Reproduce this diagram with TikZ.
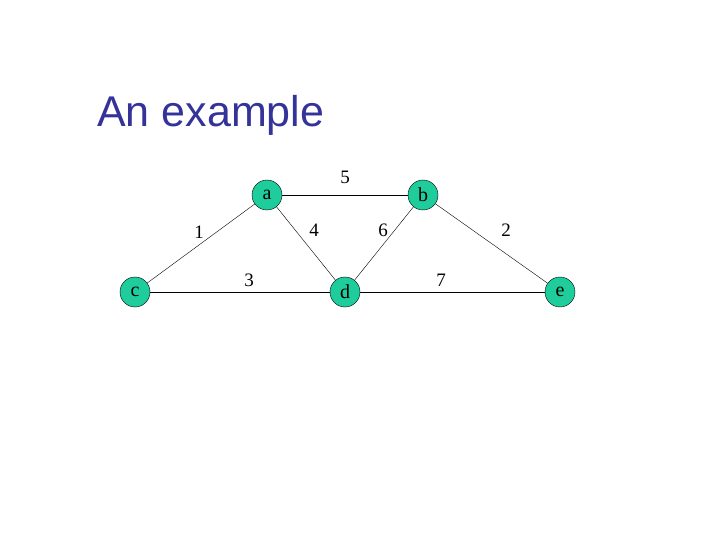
\documentclass[tikz,border=0pt]{standalone}
\usepackage{fontspec}
\setmainfont{Liberation Serif}
\newfontfamily\titlefont{Liberation Sans}
\usepackage{tikz}
\definecolor{VerdeNodo}{RGB}{30,205,155}
\definecolor{AzulTitulo}{RGB}{51,51,153}

\begin{document}
\begin{tikzpicture}[x=1pt,y=-1pt,
  vertice/.style={circle,draw,fill=VerdeNodo,minimum size=30pt,inner sep=0pt,font=\fontsize{20}{22}\selectfont},
  peso/.style={font=\fontsize{19}{21}\selectfont}]
  \useasboundingbox (0,0) rectangle (720,540);
  \node[anchor=base west,text=AzulTitulo,inner sep=0pt,font=\titlefont\fontsize{43}{47}\selectfont] (titulo) at (97,127) {An example};
  \node[vertice] (a) at (267,195) {a};
  \node[vertice] (b) at (423,195) {b};
  \node[vertice] (c) at (135,292) {c};
  \node[vertice] (d) at (345,292) {d};
  \node[vertice] (e) at (560,292) {e};
  \draw (a)--(b);
  \draw (a)--(c);
  \draw (a)--(d);
  \draw (b)--(d);
  \draw (b)--(e);
  \draw (c)--(d);
  \draw (d)--(e);
  \node[peso] (w5) at (345,177) {5};
  \node[peso] (w1) at (199,232) {1};
  \node[peso] (w4) at (314,230) {4};
  \node[peso] (w6) at (383,230) {6};
  \node[peso] (w2) at (506,230) {2};
  \node[peso] (w3) at (249,280) {3};
  \node[peso] (w7) at (441,280) {7};
\end{tikzpicture}
\end{document}
